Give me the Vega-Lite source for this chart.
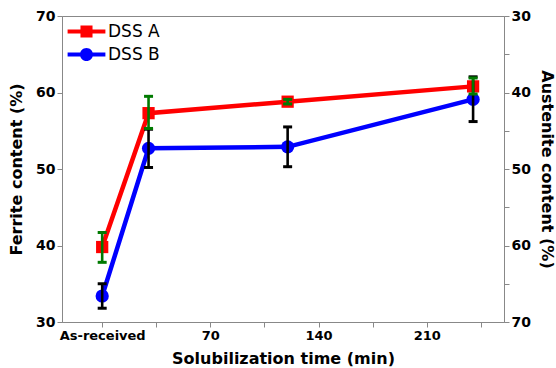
{
  "$schema": "https://vega.github.io/schema/vega-lite/v6.json",
  "width": 442,
  "height": 306,
  "autosize": {"type": "none"},
  "padding": {"left": 62, "top": 16, "right": 52, "bottom": 46},
  "background": "white",
  "config": {
    "font": "DejaVu Sans",
    "view": {"stroke": "#888888", "strokeWidth": 1},
    "axis": {
      "grid": false,
      "domainColor": "#888888",
      "tickColor": "#888888",
      "labelColor": "black",
      "labelFont": "DejaVu Sans",
      "labelFontWeight": "bold",
      "labelFontSize": 14,
      "titleFont": "DejaVu Sans",
      "titleFontWeight": "bold",
      "titleFontSize": 16,
      "titleColor": "black",
      "tickSize": 5,
      "labelPadding": 2
    }
  },
  "data": {
    "values": [
      {"series": "DSS A", "time": 0, "ferrite": 39.8, "lo": 37.8, "hi": 41.7},
      {"series": "DSS A", "time": 30, "ferrite": 57.3, "lo": 55.3, "hi": 59.5},
      {"series": "DSS A", "time": 120, "ferrite": 58.8, "lo": 58.5, "hi": 59.1},
      {"series": "DSS A", "time": 240, "ferrite": 60.8, "lo": 59.8, "hi": 61.9},
      {"series": "DSS B", "time": 0, "ferrite": 33.4, "lo": 31.8, "hi": 35.0},
      {"series": "DSS B", "time": 30, "ferrite": 52.7, "lo": 50.2, "hi": 55.2},
      {"series": "DSS B", "time": 120, "ferrite": 52.9, "lo": 50.3, "hi": 55.5},
      {"series": "DSS B", "time": 240, "ferrite": 59.1, "lo": 56.2, "hi": 62.05}
    ]
  },
  "layer": [
    {
      "layer": [
        {
          "mark": {"type": "line", "strokeWidth": 4.5},
          "encoding": {
            "x": {
              "field": "time",
              "type": "quantitative",
              "title": "Solubilization time (min)",
              "scale": {"domain": [-26, 260], "nice": false, "zero": false},
              "axis": {
                "values": [0, 35, 70, 105, 140, 175, 210, 245],
                "labelExpr": "datum.value == 0 ? 'As-received' : (datum.value % 70 == 0 ? datum.label : '')",
                "labelFontSize": 13,
                "titlePadding": 8
              }
            },
            "y": {
              "field": "ferrite",
              "type": "quantitative",
              "title": "Ferrite content (%)",
              "scale": {"domain": [30, 70], "nice": false, "zero": false},
              "axis": {
                "values": [30, 35, 40, 45, 50, 55, 60, 65, 70],
                "labelExpr": "datum.value % 10 == 0 ? datum.label : ''",
                "titlePadding": 11
              }
            },
            "color": {
              "field": "series",
              "type": "nominal",
              "scale": {"domain": ["DSS A", "DSS B"], "range": ["#ff0000", "#0000ff"]},
              "legend": {
                "title": null,
                "orient": "none",
                "legendX": 16,
                "legendY": 7,
                "padding": 0,
                "symbolSize": 196,
                "labelFontSize": 17,
                "labelFont": "DejaVu Sans",
                "labelColor": "black",
                "labelOffset": 13,
                "rowPadding": 5,
                "encode": {
                  "symbols": {
                    "update": {
                      "shape": {"signal": "datum.value === 'DSS A' ? 'M-2.7,-0.3H2.7V0.3H-2.7Z M-0.86,-0.86H0.86V0.86H-0.86Z' : 'M-2.7,-0.3H2.7V0.3H-2.7Z M-0.93,0A0.93,0.93 0 1 1 0.93,0A0.93,0.93 0 1 1 -0.93,0Z'"},
                      "fill": {"signal": "datum.value === 'DSS A' ? '#ff0000' : '#0000ff'"},
                      "stroke": {"value": "transparent"},
                      "strokeWidth": {"value": 0},
                      "opacity": {"value": 1}
                    }
                  }
                }
              }
            }
          }
        },
        {
          "transform": [{"filter": "datum.series === 'DSS A'"}],
          "mark": {"type": "point", "filled": true, "opacity": 1, "shape": "square", "size": 150, "color": "#ff0000"},
          "encoding": {
            "x": {"field": "time", "type": "quantitative", "title": "Solubilization time (min)"},
            "y": {"field": "ferrite", "type": "quantitative", "title": "Ferrite content (%)"}
          }
        },
        {
          "transform": [{"filter": "datum.series === 'DSS B'"}],
          "mark": {"type": "point", "filled": true, "opacity": 1, "shape": "circle", "size": 175, "color": "#0000ff"},
          "encoding": {
            "x": {"field": "time", "type": "quantitative", "title": "Solubilization time (min)"},
            "y": {"field": "ferrite", "type": "quantitative", "title": "Ferrite content (%)"}
          }
        },
        {
          "transform": [{"filter": "datum.series === 'DSS B'"}],
          "mark": {
            "type": "errorbar",
            "color": "black",
            "opacity": 1,
            "rule": {"strokeWidth": 2.6, "opacity": 1},
            "ticks": {"size": 9, "thickness": 3, "color": "black", "opacity": 1}
          },
          "encoding": {
            "x": {"field": "time", "type": "quantitative", "title": "Solubilization time (min)"},
            "y": {"field": "lo", "type": "quantitative", "title": "Ferrite content (%)"},
            "y2": {"field": "hi"}
          }
        },
        {
          "transform": [{"filter": "datum.series === 'DSS A'"}],
          "mark": {
            "type": "errorbar",
            "color": "#007a00",
            "opacity": 1,
            "rule": {"strokeWidth": 2.6, "opacity": 1},
            "ticks": {"size": 9, "thickness": 3, "color": "#007a00", "opacity": 1}
          },
          "encoding": {
            "x": {"field": "time", "type": "quantitative", "title": "Solubilization time (min)"},
            "y": {"field": "lo", "type": "quantitative", "title": "Ferrite content (%)"},
            "y2": {"field": "hi"}
          }
        }
      ]
    },
    {
      "mark": {"type": "point", "opacity": 0},
      "encoding": {
        "x": {"field": "time", "type": "quantitative", "title": "Solubilization time (min)"},
        "y": {
          "field": "ferrite",
          "type": "quantitative",
          "title": "Austenite content (%)",
          "scale": {"domain": [30, 70], "nice": false, "zero": false},
          "axis": {
            "orient": "right",
            "values": [30, 35, 40, 45, 50, 55, 60, 65, 70],
            "labelExpr": "datum.value % 10 == 0 ? (100 - datum.value) + '' : ''",
            "titlePadding": 8
          }
        }
      }
    }
  ],
  "resolve": {"scale": {"y": "independent"}}
}
